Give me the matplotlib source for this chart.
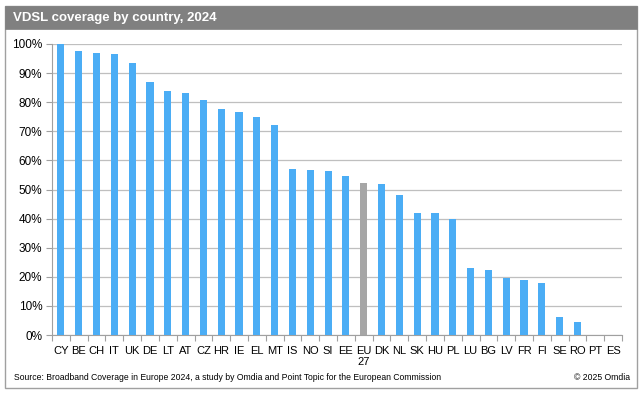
import matplotlib
matplotlib.use("Agg")
import matplotlib.pyplot as plt
from matplotlib.patches import Rectangle

countries = ["CY", "BE", "CH", "IT", "UK", "DE", "LT", "AT", "CZ", "HR", "IE", "EL", "MT",
             "IS", "NO", "SI", "EE", "EU\n27", "DK", "NL", "SK", "HU", "PL", "LU", "BG",
             "LV", "FR", "FI", "SE", "RO", "PT", "ES"]
coverage = [100.0, 97.5, 96.8, 96.5, 93.5, 86.9, 84.0, 83.0, 80.8, 77.8, 76.7, 74.8, 72.1,
            57.2, 56.8, 56.3, 54.6, 52.3, 51.8, 48.0, 41.8, 41.8, 39.7, 23.1, 22.4,
            19.7, 18.8, 17.9, 6.3, 4.5, 0.0, 0.0]
yticks = [0, 10, 20, 30, 40, 50, 60, 70, 80, 90, 100]
title = "VDSL coverage by country, 2024"
source = "Source: Broadband Coverage in Europe 2024, a study by Omdia and Point Topic for the European Commission"
copyright_text = "\u00a9 2025 Omdia"

plt.rcParams['font.family'] = ['Liberation Sans', 'DejaVu Sans']

W, H = 643, 396
fig = plt.figure(figsize=(W / 100, H / 100), dpi=100)
fig.patch.set_facecolor("white")

# outer border
fig.add_artist(Rectangle((5 / W, 1 - 388 / H), 632 / W, 382 / H, transform=fig.transFigure,
                         facecolor="white", edgecolor="#A0A0A0", linewidth=1.0, zorder=0))
# title bar
fig.add_artist(Rectangle((5 / W, 1 - 29 / H), 632 / W, 23 / H, transform=fig.transFigure,
                         facecolor="#808080", edgecolor="#808080", linewidth=0.5, zorder=1))
fig.text(13 / W, 1 - 17.5 / H, title, color="white", fontsize=9.5,
         fontweight="bold", ha="left", va="center", zorder=2)

ax = fig.add_axes([52 / W, 1 - 335 / H, (622 - 52) / W, (335 - 44) / H])
x = list(range(len(countries)))
colors = ["#A6A6A6" if c.startswith("EU") else "#4BADF5" for c in countries]
ax.bar(x, coverage, width=0.4, color=colors, zorder=3)

ax.set_xlim(-0.5, len(countries) - 0.5)
ax.set_ylim(0, 100)
ax.set_yticks(yticks)
ax.set_yticklabels([f"{v}%" for v in yticks], fontsize=8.5)
ax.yaxis.grid(True, color="#BFBFBF", linewidth=0.9, zorder=0)
ax.set_axisbelow(True)

ax.set_xticks(x)
ax.set_xticklabels(countries, fontsize=8, linespacing=1.05)
ax.tick_params(axis="x", length=0, pad=8)
ax.set_xticks([i - 0.5 for i in range(len(countries) + 1)], minor=True)
ax.tick_params(axis="x", which="minor", length=4, color="#A0A0A0", width=0.8)
ax.tick_params(axis="y", length=4, color="#A0A0A0", width=0.8, pad=3)

for s in ["top", "right"]:
    ax.spines[s].set_visible(False)
ax.spines["left"].set_color("#A0A0A0")
ax.spines["bottom"].set_color("#A0A0A0")

fig.text(14 / W, 1 - 377 / H, source, fontsize=6.2, ha="left", va="center")
fig.text(630 / W, 1 - 377 / H, copyright_text, fontsize=6.2, ha="right", va="center")

fig.savefig("out.png", dpi=100)
